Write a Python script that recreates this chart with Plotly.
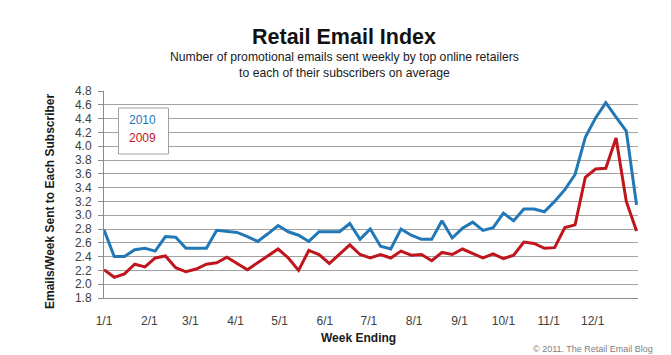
import pandas as pd
import plotly.graph_objects as go

# ---- data ----
week_start = "2010-01-01"
n_weeks = 53
weeks = pd.date_range(week_start, periods=n_weeks, freq="7D")

emails_2010 = [2.79, 2.40, 2.40, 2.50, 2.52, 2.48, 2.69, 2.68, 2.52, 2.52,
               2.52, 2.78, 2.77, 2.75, 2.69, 2.62, 2.73, 2.85, 2.76, 2.71,
               2.62, 2.76, 2.76, 2.76, 2.88, 2.65, 2.80, 2.55, 2.51, 2.80,
               2.71, 2.65, 2.65, 2.92, 2.67, 2.81, 2.90, 2.78, 2.82, 3.03,
               2.92, 3.09, 3.09, 3.05, 3.20, 3.37, 3.59, 4.13, 4.41, 4.63,
               4.42, 4.22, 3.15]
emails_2009 = [2.21, 2.10, 2.15, 2.29, 2.25, 2.38, 2.41, 2.24, 2.18, 2.22,
               2.29, 2.31, 2.39, 2.30, 2.21, 2.31, 2.41, 2.51, 2.38, 2.20,
               2.49, 2.43, 2.30, 2.44, 2.57, 2.43, 2.38, 2.43, 2.38, 2.48,
               2.42, 2.43, 2.34, 2.46, 2.43, 2.51, 2.45, 2.38, 2.44, 2.37,
               2.42, 2.61, 2.59, 2.52, 2.53, 2.82, 2.86, 3.55, 3.67, 3.68,
               4.12, 3.20, 2.77]

month_ticks = ["2010-01-01", "2010-02-01", "2010-03-01", "2010-04-01",
               "2010-05-01", "2010-06-01", "2010-07-01", "2010-08-01",
               "2010-09-01", "2010-10-01", "2010-11-01", "2010-12-01"]
month_labels = ["1/1", "2/1", "3/1", "4/1", "5/1", "6/1", "7/1", "8/1",
                "9/1", "10/1", "11/1", "12/1"]

BLUE = "#2278B6"
RED = "#C0151D"
FONT = "Liberation Sans, Arial, sans-serif"

fig = go.Figure()
fig.add_trace(go.Scatter(x=weeks, y=emails_2009, mode="lines", name="2009",
                         line=dict(color=RED, width=3), showlegend=False))
fig.add_trace(go.Scatter(x=weeks, y=emails_2010, mode="lines", name="2010",
                         line=dict(color=BLUE, width=3), showlegend=False))

W, H = 671, 355
L, R, T, B = 96, 41, 83, 65
pw, ph = W - L - R, H - T - B


def px(x):
    return (x - L) / pw


def py(y):
    return (H - B - y) / ph


fig.update_layout(
    width=W, height=H,
    margin=dict(l=L, r=R, t=T, b=B, pad=0),
    paper_bgcolor="white", plot_bgcolor="white",
    font=dict(family=FONT, size=12, color="#404040"),
    xaxis=dict(
        type="date",
        range=["2010-01-01", "2011-01-01"],
        tickvals=month_ticks, ticktext=month_labels,
        showgrid=False, zeroline=False,
        showline=True, linecolor="#8C8C8C", linewidth=1,
        ticks="", ticklabelstandoff=12,
        tickfont=dict(size=12, color="#404040"),
    ),
    yaxis=dict(
        range=[1.8, 4.8], dtick=0.2, tick0=1.8, tickformat=".1f",
        showgrid=True, gridcolor="#A3A3A3", gridwidth=1,
        zeroline=False,
        showline=True, linecolor="#8C8C8C", linewidth=1,
        ticks="outside", ticklen=5, tickcolor="#8C8C8C",
        ticklabelstandoff=4,
        tickfont=dict(size=12, color="#404040"),
    ),
    shapes=[dict(type="rect", xref="paper", yref="paper",
                 x0=px(110.5), x1=px(160.5), y0=py(146), y1=py(100),
                 line=dict(color="#A0A0A0", width=1), fillcolor="white",
                 layer="above")],
    annotations=[
        dict(text="<b>Retail Email Index</b>", xref="paper", yref="paper",
             x=px(336), y=py(29), showarrow=False, xanchor="center",
             yanchor="middle", font=dict(size=21.5, color="#111111")),
        dict(text="Number of promotional emails sent weekly by top online retailers"
                  "<br>to each of their subscribers on average",
             xref="paper", yref="paper", x=px(336), y=py(57.5),
             showarrow=False, xanchor="center", yanchor="middle",
             font=dict(size=12.2, color="#1a1a1a")),
        dict(text="<b>Emails/Week Sent to Each Subscriber</b>", xref="paper",
             yref="paper", x=px(42), y=py(193), textangle=-90,
             showarrow=False, xanchor="center", yanchor="middle",
             font=dict(size=12, color="#1a1a1a")),
        dict(text="<b>Week Ending</b>", xref="paper", yref="paper",
             x=px(350), y=py(330), showarrow=False, xanchor="center",
             yanchor="middle", font=dict(size=12, color="#1a1a1a")),
        dict(text="© 2011. The Retail Email Blog", xref="paper", yref="paper",
             x=px(585), y=py(341), showarrow=False, xanchor="center",
             yanchor="middle", font=dict(size=9, color="#808080")),
        dict(text="2010", xref="paper", yref="paper", x=px(134), y=py(112),
             showarrow=False, xanchor="center", yanchor="middle",
             font=dict(size=12, color=BLUE)),
        dict(text="2009", xref="paper", yref="paper", x=px(134), y=py(129.5),
             showarrow=False, xanchor="center", yanchor="middle",
             font=dict(size=12, color=RED)),
    ],
)

fig.write_html("out.html")
